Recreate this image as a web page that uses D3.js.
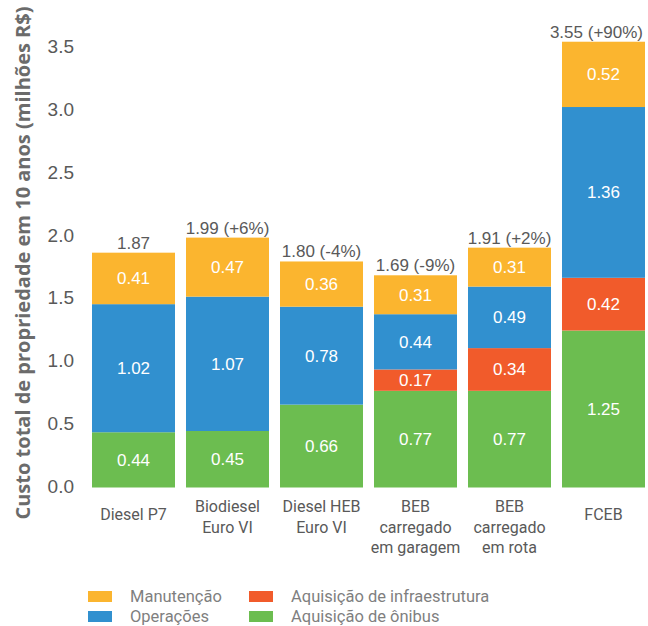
<!DOCTYPE html>
<html><head><meta charset="utf-8">
<script src="https://cdn.jsdelivr.net/npm/d3@7"></script>
<style>body{margin:0;background:#fff}svg{display:block}</style>
</head><body>
<svg id="c" width="648" height="626"></svg>
<script>
const categories = [["Diesel P7"],["Biodiesel","Euro VI"],["Diesel HEB","Euro VI"],["BEB","carregado","em garagem"],["BEB","carregado","em rota"],["FCEB"]];
const onibus = [0.44, 0.45, 0.66, 0.77, 0.77, 1.25];
const infraestrutura = [0, 0, 0, 0.17, 0.34, 0.42];
const operacoes = [1.02, 1.07, 0.78, 0.44, 0.49, 1.36];
const manutencao = [0.41, 0.47, 0.36, 0.31, 0.31, 0.52];
const totalLabels = ["1.87","1.99 (+6%)","1.80 (-4%)","1.69 (-9%)","1.91 (+2%)","3.55 (+90%)"];
const yTicks = [0,0.5,1.0,1.5,2.0,2.5,3.0,3.5];
const seriesNames = ["Aquisição de ônibus","Aquisição de infraestrutura","Operações","Manutenção"];
const seriesColors = ["#6cbd50","#f15b2b","#3190cf","#fbb52f"];
const legendOrder = [3,1,2,0];

const svg = d3.select("#c");
const x = d3.scaleBand().domain(d3.range(categories.length)).range([92,645]).paddingInner(0.117).paddingOuter(0);
const y = d3.scaleLinear().domain([0,3.5]).range([487.5,48]);

const rows = categories.map((c,i)=>({i, s0:onibus[i], s1:infraestrutura[i], s2:operacoes[i], s3:manutencao[i]}));
const stack = d3.stack().keys(["s0","s1","s2","s3"])(rows);

const fontNum = "'Liberation Sans', Arial, sans-serif";
const fontTxt = "Roboto, 'Noto Sans', sans-serif";

// y axis tick labels
svg.append("g").selectAll("text").data(yTicks).join("text")
  .attr("x",74).attr("y",d=>y(d)-1.5).attr("dy","0.35em")
  .attr("text-anchor","end").attr("font-family",fontNum).attr("font-size",19)
  .attr("fill","#595959").text(d=>d.toFixed(1));

// axis title
svg.append("text").attr("transform","translate(30,263) rotate(-90)")
  .attr("text-anchor","middle").attr("font-family","'Open Sans', sans-serif").attr("font-weight","bold")
  .attr("font-size",20).attr("fill","#6b6b6b").text("Custo total de propriedade em 10 anos  (milhões R$)");

// bars
stack.forEach((layer,k)=>{
  const g = svg.append("g");
  layer.forEach((d,i)=>{
    const v = d[1]-d[0];
    if(v<=0) return;
    g.append("rect").attr("x",x(i)).attr("width",x.bandwidth())
      .attr("y",y(d[1])).attr("height",y(d[0])-y(d[1])).attr("fill",seriesColors[k]);
    g.append("text").attr("x",x(i)+x.bandwidth()/2).attr("y",(y(d[0])+y(d[1]))/2).attr("dy","0.35em")
      .attr("text-anchor","middle").attr("font-family",fontNum).attr("font-size",17).attr("fill","#fff")
      .text(v.toFixed(2));
  });
});

// totals (kept inside the picture)
const topLayer = stack[3];
svg.append("g").selectAll("text").data(topLayer).join("text")
  .attr("x",(d,i)=>x(i)+x.bandwidth()/2).attr("y",d=>y(d[1])-4)
  .attr("text-anchor","middle").attr("font-family",fontNum).attr("font-size",17).attr("fill","#595959")
  .text((d,i)=>totalLabels[i])
  .each(function(){
    const w = this.getComputedTextLength();
    const cx = +this.getAttribute("x");
    if (cx + w/2 > 643) this.setAttribute("x", 643 - w/2);
  });

// category labels
const cg = svg.append("g");
categories.forEach((lines,i)=>{
  const t = cg.append("text").attr("x",x(i)+x.bandwidth()/2).attr("y",lines.length===1?520:512)
    .attr("text-anchor","middle").attr("font-family",fontTxt).attr("font-size",16).attr("fill","#595959");
  lines.forEach((l,j)=>t.append("tspan").attr("x",x(i)+x.bandwidth()/2).attr("dy",j?20.5:0).text(l));
});

// legend
const lg = svg.append("g");
legendOrder.forEach((k,idx)=>{
  const col = idx%2, row = Math.floor(idx/2);
  const lx = 88 + col*161, ly = 591 + row*20;
  lg.append("rect").attr("x",lx).attr("y",ly).attr("width",24).attr("height",11).attr("fill",seriesColors[k]);
  lg.append("text").attr("x",lx+42).attr("y",ly+5.5).attr("dy","0.35em")
    .attr("font-family",fontTxt).attr("font-size",16.5).attr("fill","#7f7f7f").text(seriesNames[k]);
});
</script>
</body></html>
